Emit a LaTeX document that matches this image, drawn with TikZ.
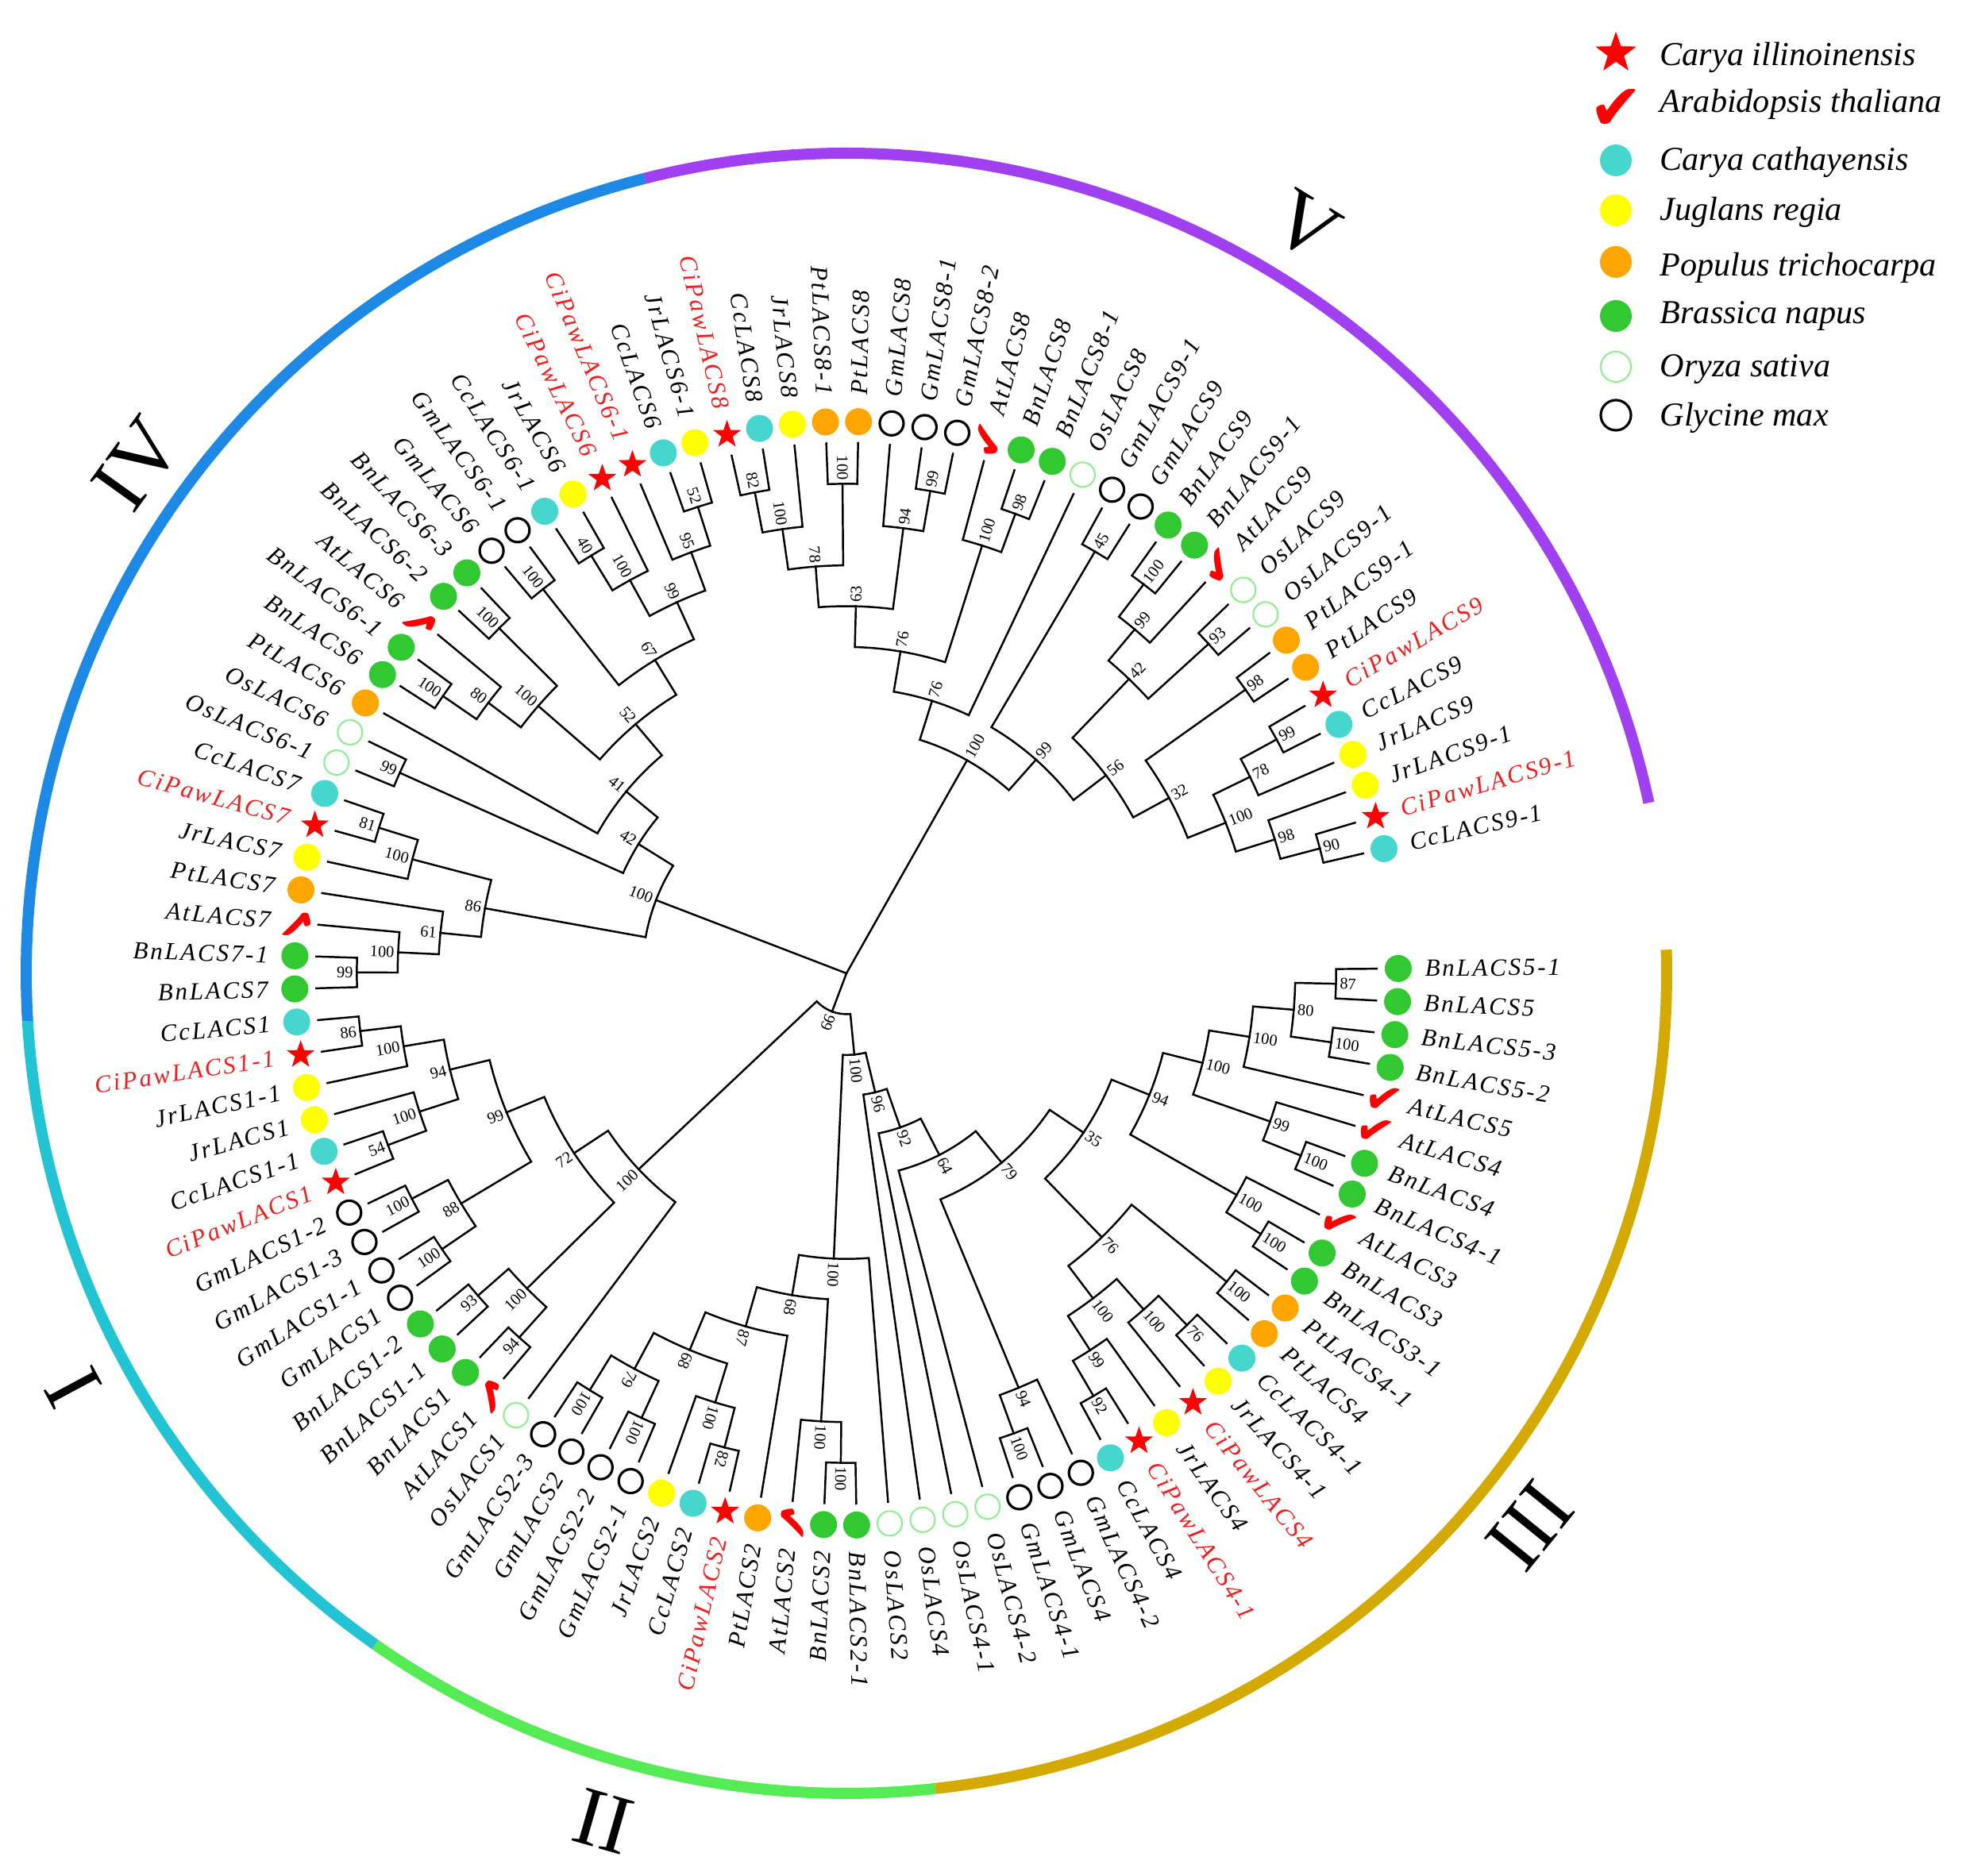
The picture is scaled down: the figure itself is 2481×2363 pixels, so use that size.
\documentclass[tikz,border=0pt]{standalone}
\usepackage{fontspec}
\setmainfont{Liberation Serif}
\newfontfamily\leaffont[LetterSpace=9]{Liberation Serif}
\newfontfamily\tickfont{DejaVu Sans}
\usetikzlibrary{shapes.geometric}

\definecolor{pecred}{RGB}{255,0,0}
\definecolor{labred}{RGB}{240,30,30}
\definecolor{cathcol}{RGB}{70,214,206}
\definecolor{walnutcol}{RGB}{255,255,0}
\definecolor{poplarcol}{RGB}{255,165,0}
\definecolor{rapecol}{RGB}{50,200,50}
\definecolor{ricecol}{RGB}{144,238,144}
\definecolor{ringI}{RGB}{34,196,212}
\definecolor{ringII}{RGB}{85,235,85}
\definecolor{ringIII}{RGB}{212,170,0}
\definecolor{ringIV}{RGB}{30,136,229}
\definecolor{ringV}{RGB}{160,64,240}

\newcommand\treeleaf[4]{%
  \pgfmathsetmacro\lfa{0.5-3.44*(#1-1)}%
  \expandafter\xdef\csname na@L#1\endcsname{\lfa}%
  \expandafter\xdef\csname nh@L#1\endcsname{0}%
  \coordinate (L#1) at (\lfa:668);
  \node[#3] (M#1) at (\lfa:695) {};
  \pgfmathsetmacro\lfn{mod(\lfa+720,360)}%
  \pgfmathtruncatemacro\lff{and(\lfn>90,\lfn<270)}%
  \ifnum\lff=1
    \node[leaflab, text=#4, anchor=east, rotate=\lfa+180] (T#1) at (\lfa:728) {#2};
  \else
    \node[leaflab, text=#4, anchor=west, rotate=\lfa] (T#1) at (\lfa:728) {#2};
  \fi}

\newcommand\bootlabel[3]{%
  \pgfmathsetmacro\bln{mod(#3+720,360)}%
  \pgfmathtruncatemacro\blf{and(\bln>90,\bln<232)}%
  \ifnum\blf=1
    \node[bootlab, anchor=east, rotate=#3+180] (b#1) at (#1) {#2};
  \else
    \node[bootlab, anchor=west, rotate=#3] (b#1) at (#1) {#2};
  \fi}

\newcommand\cladejoin[4]{%
  \edef\cjA{\csname na@#2\endcsname}%
  \edef\cjB{\csname na@#3\endcsname}%
  \edef\cjHA{\csname nh@#2\endcsname}%
  \edef\cjHB{\csname nh@#3\endcsname}%
  \pgfmathsetmacro\cja{(\cjA+\cjB)/2}%
  \pgfmathtruncatemacro\cjh{max(\cjHA,\cjHB)+1}%
  \pgfmathsetmacro\cjr{668-51.38*\cjh}%
  \expandafter\xdef\csname na@#1\endcsname{\cja}%
  \expandafter\xdef\csname nh@#1\endcsname{\cjh}%
  \coordinate (#1) at (\cja:\cjr);
  \draw[branch] (#1) arc[start angle=\cja, end angle=\cjA, radius=\cjr] -- (#2);
  \draw[branch] (#1) arc[start angle=\cja, end angle=\cjB, radius=\cjr] -- (#3);
  \bootlabel{#1}{#4}{\cja}}

\begin{document}
\begin{tikzpicture}[x=0.01cm, y=0.01cm,
  branch/.style={line width=0.7pt, black, line cap=rect},
  leaflab/.style={font=\leaffont\itshape\fontsize{8.8}{10}\selectfont, inner sep=0pt},
  bootlab/.style={font=\fontsize{5.8}{6}\selectfont, inner sep=1.2pt},
  mkbase/.style={inner sep=0pt, minimum size=0.34cm},
  mkpecan/.style={mkbase, star, star points=5, star point ratio=2.5, fill=pecred, minimum size=0.37cm},
  mkarab/.style={inner sep=0pt, text=pecred, font=\tickfont\fontsize{16}{16}\selectfont, rotate=\lfa, execute at begin node={✔}},
  mkcath/.style={mkbase, circle, fill=cathcol},
  mkwalnut/.style={mkbase, circle, fill=walnutcol},
  mkpoplar/.style={mkbase, circle, fill=poplarcol},
  mkrape/.style={mkbase, circle, fill=rapecol},
  mkrice/.style={mkbase, circle, draw=ricecol, line width=0.6pt, minimum size=0.31cm},
  mksoy/.style={mkbase, circle, draw=black, line width=0.9pt, minimum size=0.30cm},
  ring/.style={line width=0.14cm},
  numeral/.style={font=\fontsize{30}{30}\selectfont, inner sep=0pt},
  legtext/.style={font=\itshape\fontsize{12}{14}\selectfont, anchor=base west, inner sep=0pt}]

\useasboundingbox (0,0) rectangle (2481,2363);

\begin{scope}[shift={(1066,1137)}]
\foreach \idx/\lab/\mk/\lcol in {
 1/BnLACS5-1/mkrape/black, 2/BnLACS5/mkrape/black, 3/BnLACS5-3/mkrape/black, 4/BnLACS5-2/mkrape/black,
 5/AtLACS5/mkarab/black, 6/AtLACS4/mkarab/black, 7/BnLACS4/mkrape/black, 8/BnLACS4-1/mkrape/black,
 9/AtLACS3/mkarab/black, 10/BnLACS3/mkrape/black, 11/BnLACS3-1/mkrape/black, 12/PtLACS4-1/mkpoplar/black,
 13/PtLACS4/mkpoplar/black, 14/CcLACS4-1/mkcath/black, 15/JrLACS4-1/mkwalnut/black, 16/CiPawLACS4/mkpecan/labred,
 17/JrLACS4/mkwalnut/black, 18/CiPawLACS4-1/mkpecan/labred, 19/CcLACS4/mkcath/black, 20/GmLACS4-2/mksoy/black,
 21/GmLACS4/mksoy/black, 22/GmLACS4-1/mksoy/black, 23/OsLACS4-2/mkrice/black, 24/OsLACS4-1/mkrice/black,
 25/OsLACS4/mkrice/black, 26/OsLACS2/mkrice/black, 27/BnLACS2-1/mkrape/black, 28/BnLACS2/mkrape/black,
 29/AtLACS2/mkarab/black, 30/PtLACS2/mkpoplar/black, 31/CiPawLACS2/mkpecan/labred, 32/CcLACS2/mkcath/black,
 33/JrLACS2/mkwalnut/black, 34/GmLACS2-1/mksoy/black, 35/GmLACS2-2/mksoy/black, 36/GmLACS2/mksoy/black,
 37/GmLACS2-3/mksoy/black, 38/OsLACS1/mkrice/black, 39/AtLACS1/mkarab/black, 40/BnLACS1/mkrape/black,
 41/BnLACS1-1/mkrape/black, 42/BnLACS1-2/mkrape/black, 43/GmLACS1/mksoy/black, 44/GmLACS1-1/mksoy/black,
 45/GmLACS1-3/mksoy/black, 46/GmLACS1-2/mksoy/black, 47/CiPawLACS1/mkpecan/labred, 48/CcLACS1-1/mkcath/black,
 49/JrLACS1/mkwalnut/black, 50/JrLACS1-1/mkwalnut/black, 51/CiPawLACS1-1/mkpecan/labred, 52/CcLACS1/mkcath/black,
 53/BnLACS7/mkrape/black, 54/BnLACS7-1/mkrape/black, 55/AtLACS7/mkarab/black, 56/PtLACS7/mkpoplar/black,
 57/JrLACS7/mkwalnut/black, 58/CiPawLACS7/mkpecan/labred, 59/CcLACS7/mkcath/black, 60/OsLACS6-1/mkrice/black,
 61/OsLACS6/mkrice/black, 62/PtLACS6/mkpoplar/black, 63/BnLACS6/mkrape/black, 64/BnLACS6-1/mkrape/black,
 65/AtLACS6/mkarab/black, 66/BnLACS6-2/mkrape/black, 67/BnLACS6-3/mkrape/black, 68/GmLACS6/mksoy/black,
 69/GmLACS6-1/mksoy/black, 70/CcLACS6-1/mkcath/black, 71/JrLACS6/mkwalnut/black, 72/CiPawLACS6/mkpecan/labred,
 73/CiPawLACS6-1/mkpecan/labred, 74/CcLACS6/mkcath/black, 75/JrLACS6-1/mkwalnut/black, 76/CiPawLACS8/mkpecan/labred,
 77/CcLACS8/mkcath/black, 78/JrLACS8/mkwalnut/black, 79/PtLACS8-1/mkpoplar/black, 80/PtLACS8/mkpoplar/black,
 81/GmLACS8/mksoy/black, 82/GmLACS8-1/mksoy/black, 83/GmLACS8-2/mksoy/black, 84/AtLACS8/mkarab/black,
 85/BnLACS8/mkrape/black, 86/BnLACS8-1/mkrape/black, 87/OsLACS8/mkrice/black, 88/GmLACS9-1/mksoy/black,
 89/GmLACS9/mksoy/black, 90/BnLACS9/mkrape/black, 91/BnLACS9-1/mkrape/black, 92/AtLACS9/mkarab/black,
 93/OsLACS9/mkrice/black, 94/OsLACS9-1/mkrice/black, 95/PtLACS9-1/mkpoplar/black, 96/PtLACS9/mkpoplar/black,
 97/CiPawLACS9/mkpecan/labred, 98/CcLACS9/mkcath/black, 99/JrLACS9/mkwalnut/black, 100/JrLACS9-1/mkwalnut/black,
 101/CiPawLACS9-1/mkpecan/labred, 102/CcLACS9-1/mkcath/black}
 {\edef\tmpleaf{\noexpand\treeleaf{\idx}{\lab}{\mk}{\lcol}}\tmpleaf}

\cladejoin{c87}{L1}{L2}{87}
\cladejoin{c100a}{L3}{L4}{100}
\cladejoin{c80}{c87}{c100a}{80}
\cladejoin{c100b}{c80}{L5}{100}
\cladejoin{c100d}{L7}{L8}{100}
\cladejoin{c99}{L6}{c100d}{99}
\cladejoin{c100c}{c100b}{c99}{100}
\cladejoin{c100f}{L10}{L11}{100}
\cladejoin{c100e}{L9}{c100f}{100}
\cladejoin{c94}{c100c}{c100e}{94}
\cladejoin{c100g}{L12}{L13}{100}
\cladejoin{c76b}{L14}{L15}{76}
\cladejoin{c100i}{c76b}{L16}{100}
\cladejoin{c92}{L18}{L19}{92}
\cladejoin{c99b}{L17}{c92}{99}
\cladejoin{c100h}{c100i}{c99b}{100}
\cladejoin{c76}{c100g}{c100h}{76}
\cladejoin{c35}{c94}{c76}{35}
\cladejoin{c100j}{L21}{L22}{100}
\cladejoin{c94b}{L20}{c100j}{94}
\cladejoin{c79}{c35}{c94b}{79}
\cladejoin{c64}{L23}{c79}{64}
\cladejoin{c92b}{L24}{c64}{92}
\cladejoin{c96}{L25}{c92b}{96}

\cladejoin{c100D}{L27}{L28}{100}
\cladejoin{c100C}{L29}{c100D}{100}
\cladejoin{c82}{L31}{L32}{82}
\cladejoin{c100G}{c82}{L33}{100}
\cladejoin{c100a2}{L34}{L35}{100}
\cladejoin{c100b2}{L36}{L37}{100}
\cladejoin{c79b}{c100a2}{c100b2}{79}
\cladejoin{c68F}{c100G}{c79b}{68}
\cladejoin{c87E}{c68F}{L30}{87}
\cladejoin{c68B}{c87E}{c100C}{68}
\cladejoin{c100ii}{c68B}{L26}{100}
\cladejoin{c100k}{c100ii}{c96}{100}

\cladejoin{c94c}{L39}{L40}{94}
\cladejoin{c93}{L41}{L42}{93}
\cladejoin{c100m}{c94c}{c93}{100}
\cladejoin{c100x1}{L43}{L44}{100}
\cladejoin{c100x2}{L45}{L46}{100}
\cladejoin{c88}{c100x1}{c100x2}{88}
\cladejoin{c54}{L47}{L48}{54}
\cladejoin{c100o}{c54}{L49}{100}
\cladejoin{c86b}{L51}{L52}{86}
\cladejoin{c100n}{L50}{c86b}{100}
\cladejoin{c94d}{c100o}{c100n}{94}
\cladejoin{c99c}{c88}{c94d}{99}
\cladejoin{c72}{c100m}{c99c}{72}
\cladejoin{c100I}{L38}{c72}{100}
\cladejoin{c99root}{c100I}{c100k}{99}

\cladejoin{c99d}{L53}{L54}{99}
\cladejoin{c100p}{c99d}{L55}{100}
\cladejoin{c61}{L56}{c100p}{61}
\cladejoin{c81}{L58}{L59}{81}
\cladejoin{c100q}{L57}{c81}{100}
\cladejoin{c86}{c61}{c100q}{86}
\cladejoin{c99e}{L60}{L61}{99}
\cladejoin{c100s}{L63}{L64}{100}
\cladejoin{c80b}{c100s}{L65}{80}
\cladejoin{c100u}{L66}{L67}{100}
\cladejoin{c100t}{c80b}{c100u}{100}
\cladejoin{c100v}{L68}{L69}{100}
\cladejoin{c40}{L70}{L71}{40}
\cladejoin{c100w}{c40}{L72}{100}
\cladejoin{c52b}{L74}{L75}{52}
\cladejoin{c95}{L73}{c52b}{95}
\cladejoin{c99f}{c100w}{c95}{99}
\cladejoin{c67}{c100v}{c99f}{67}
\cladejoin{c52}{c100t}{c67}{52}
\cladejoin{c41}{L62}{c52}{41}
\cladejoin{c42}{c99e}{c41}{42}
\cladejoin{c100r}{c86}{c42}{100}

\cladejoin{c82b}{L76}{L77}{82}
\cladejoin{c100x}{c82b}{L78}{100}
\cladejoin{c100y}{L79}{L80}{100}
\cladejoin{c78}{c100x}{c100y}{78}
\cladejoin{c99g}{L82}{L83}{99}
\cladejoin{c94e}{L81}{c99g}{94}
\cladejoin{c63}{c78}{c94e}{63}
\cladejoin{c98}{L85}{L86}{98}
\cladejoin{c100z}{L84}{c98}{100}
\cladejoin{c76c}{c63}{c100z}{76}
\cladejoin{c76d}{c76c}{L87}{76}
\cladejoin{c45}{L88}{L89}{45}
\cladejoin{c100bb}{L90}{L91}{100}
\cladejoin{c99h}{c100bb}{L92}{99}
\cladejoin{c93b}{L93}{L94}{93}
\cladejoin{c42b}{c99h}{c93b}{42}
\cladejoin{c98b}{L95}{L96}{98}
\cladejoin{c99i}{L97}{L98}{99}
\cladejoin{c78b}{c99i}{L99}{78}
\cladejoin{c90}{L101}{L102}{90}
\cladejoin{c98c}{L100}{c90}{98}
\cladejoin{c100cc}{c78b}{c98c}{100}
\cladejoin{c32}{c98b}{c100cc}{32}
\cladejoin{c56}{c42b}{c32}{56}
\cladejoin{c99j}{c45}{c56}{99}
\cladejoin{c100aa}{c76d}{c99j}{100}

\coordinate (root) at (0,0);
\draw[branch] (root) -- (c99root);
\draw[branch] (root) -- (c100r);
\draw[branch] (root) -- (c100aa);

\draw[ring, ringIII] (1.65:1033) arc[start angle=1.65, end angle=-83.78, radius=1033];
\draw[ring, ringII] (-83.78:1033) arc[start angle=-83.78, end angle=-125.06, radius=1033];
\draw[ring, ringI] (-125.06:1033) arc[start angle=-125.06, end angle=-176.66, radius=1033];
\draw[ring, ringIV] (-176.66:1033) arc[start angle=-176.66, end angle=-255.78, radius=1033];
\draw[ring, ringV] (-255.78:1033) arc[start angle=-255.78, end angle=-348, radius=1033];

\node[numeral, rotate=54.3] (numIV) at (144.3:1100) {IV};
\node[numeral, rotate=-31.6] (numV) at (58.4:1105) {V};
\node[numeral, rotate=51] (numIII) at (-38.95:1107) {III};
\node[numeral, rotate=-16] (numII) at (-106:1111) {II};
\node[numeral, rotate=-61.8] (numI) at (-151.8:1105) {I};
\end{scope}

\def\lfa{0}
\node[mkpecan, minimum size=0.54cm] (kpecan) at (2035,2296) {};
\node[legtext] (tpecan) at (2090,2280) {Carya illinoinensis};
\node[mkarab, font=\tickfont\fontsize{23}{23}\selectfont] (karab) at (2035,2225) {};
\node[legtext] (tarab) at (2090,2221) {Arabidopsis thaliana};
\node[mkcath, minimum size=0.40cm] (kcath) at (2035,2161) {};
\node[legtext] (tcath) at (2090,2148) {Carya cathayensis};
\node[mkwalnut, minimum size=0.40cm] (kwalnut) at (2035,2098) {};
\node[legtext] (twalnut) at (2090,2085) {Juglans regia};
\node[mkpoplar, minimum size=0.40cm] (kpoplar) at (2035,2033) {};
\node[legtext] (tpoplar) at (2090,2015) {Populus trichocarpa};
\node[mkrape, minimum size=0.40cm] (krape) at (2035,1965) {};
\node[legtext] (trape) at (2090,1955) {Brassica napus};
\node[mkrice, minimum size=0.38cm] (krice) at (2035,1901) {};
\node[legtext] (trice) at (2090,1888) {Oryza sativa};
\node[mksoy, minimum size=0.38cm] (ksoy) at (2035,1840) {};
\node[legtext] (tsoy) at (2090,1826) {Glycine max};
\end{tikzpicture}
\end{document}
